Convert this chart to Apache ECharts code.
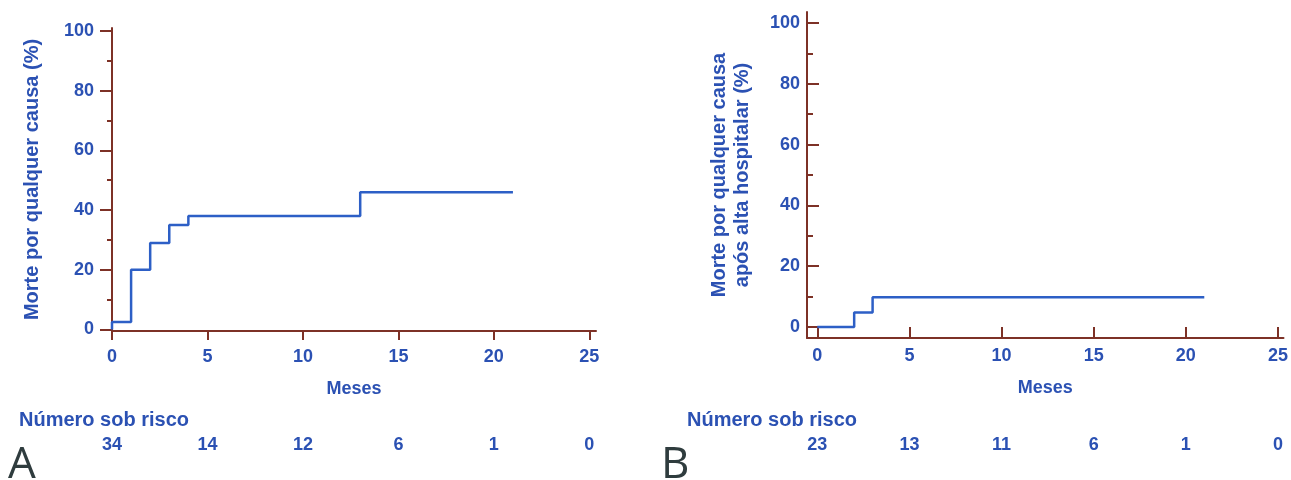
<!DOCTYPE html>
<html><head><meta charset="utf-8">
<script src="https://cdn.jsdelivr.net/npm/echarts@6/dist/echarts.min.js"></script>
<style>html,body{margin:0;padding:0;background:#fff}#c{width:1291px;height:480px}</style>
</head><body><div id="c"></div>
<script>
// ---- data ----
const timesA = [0, 0, 1, 2, 3, 4, 13, 21];
const pctA   = [0, 2.5, 20, 29, 35, 38, 46, 46];
const timesB = [0, 2, 3, 21];
const pctB   = [0, 4.8, 9.8, 9.8];
const xTicks = [0, 5, 10, 15, 20, 25];
const yTicks = [0, 20, 40, 60, 80, 100];
const yMinorTicks = [10, 30, 50, 70, 90];
const atRiskA = [34, 14, 12, 6, 1, 0];
const atRiskB = [23, 13, 11, 6, 1, 0];
const xName = 'Meses';
const yNameA = 'Morte por qualquer causa (%)';
const yNameB = 'Morte por qualquer causa\napós alta hospitalar (%)';
const riskTitle = 'Número sob risco';
const panelLetters = ['A', 'B'];

// ---- style ----
const BLUE = '#2b51b3';
const LINE = '#2d5fc6';
const AXIS = '#7d3126';
const FONT = "'Liberation Sans', Arial, sans-serif";
const txt = (extra) => Object.assign({color: BLUE, fontFamily: FONT, fontSize: 18, fontWeight: 'bold'}, extra || {});

function mainX(grid, min, max, inside, tickLen, margin, nameGap) {
  return {
    gridIndex: grid, type: 'value', position: 'bottom', min: min, max: max,
    axisLine: {show: true, onZero: false, lineStyle: {color: AXIS, width: 2}},
    axisTick: {show: true, inside: inside, length: tickLen, customValues: xTicks, lineStyle: {color: AXIS, width: 2}},
    axisLabel: {show: true, customValues: xTicks, margin: margin, ...txt()},
    splitLine: {show: false},
    name: xName, nameLocation: 'middle', nameGap: nameGap, nameTextStyle: txt()
  };
}
function riskX(grid, min, max, risk, offset) {
  return {
    gridIndex: grid, type: 'value', position: 'bottom', offset: offset, min: min, max: max,
    axisLine: {show: false, onZero: false}, axisTick: {show: false}, splitLine: {show: false},
    axisLabel: {show: true, customValues: xTicks, margin: 0, ...txt(),
      formatter: v => String(risk[xTicks.indexOf(v)])}
  };
}
function mainY(grid, min, max, inside, tickLen, margin, name, nameGap) {
  return {
    gridIndex: grid, type: 'value', position: 'left', min: min, max: max,
    axisLine: {show: true, onZero: false, lineStyle: {color: AXIS, width: 2}},
    axisTick: {show: true, inside: inside, length: tickLen, customValues: yTicks, lineStyle: {color: AXIS, width: 2}},
    axisLabel: {show: true, customValues: yTicks, margin: margin, ...txt()},
    splitLine: {show: false},
    name: name, nameLocation: 'middle', nameGap: nameGap,
    nameTextStyle: txt({fontSize: 20, lineHeight: 23, align: 'center'})
  };
}
function minorY(grid, min, max, inside, tickLen) {
  return {
    gridIndex: grid, type: 'value', position: 'left', min: min, max: max,
    axisLine: {show: false, onZero: false},
    axisTick: {show: true, inside: inside, length: tickLen, customValues: yMinorTicks, lineStyle: {color: AXIS, width: 2}},
    axisLabel: {show: false}, splitLine: {show: false}
  };
}

const option = {
  animation: false,
  backgroundColor: '#ffffff',
  title: [
    {text: riskTitle, left: 19, top: 410, padding: 0, textStyle: txt({fontSize: 20})},
    {text: riskTitle, left: 687, top: 410, padding: 0, textStyle: txt({fontSize: 20})},
    {text: panelLetters[0], left: 8, top: 443, padding: 0, textStyle: {color: '#2f3c3e', fontSize: 44, fontWeight: 'normal', fontFamily: "'Open Sans', 'Noto Sans', sans-serif"}},
    {text: panelLetters[1], left: 661, top: 443, padding: 0, textStyle: {color: '#2f3c3e', fontSize: 44, fontWeight: 'normal', fontFamily: "'Open Sans', 'Noto Sans', sans-serif"}}
  ],
  grid: [
    {left: 112, top: 28, width: 484, height: 303},
    {left: 807, top: 12, width: 484, height: 326}
  ],
  xAxis: [
    mainX(0, 0, 25.35, false, 9, 17, 49),
    riskX(0, 0, 25.35, atRiskA, 105),
    mainX(1, -0.56, 25.3, true, 11, 9, 41),
    riskX(1, -0.56, 25.3, atRiskB, 98)
  ],
  yAxis: [
    mainY(0, -0.5, 101, false, 12, 18, yNameA, 68),
    minorY(0, -0.5, 101, false, 5),
    mainY(1, -3.6, 103.6, true, 12, 7, yNameB, 53),
    minorY(1, -3.6, 103.6, true, 6)
  ],
  series: [
    {type: 'line', xAxisIndex: 0, yAxisIndex: 0, step: 'end', symbol: 'none',
     data: timesA.map((t, i) => [t, pctA[i]]), lineStyle: {color: LINE, width: 2.5}, z: 3},
    {type: 'line', xAxisIndex: 2, yAxisIndex: 2, step: 'end', symbol: 'none',
     data: timesB.map((t, i) => [t, pctB[i]]), lineStyle: {color: LINE, width: 2.5}, z: 3}
  ]
};
const chart = echarts.init(document.getElementById('c'), null, {renderer: 'canvas'});
chart.setOption(option);
</script>
</body></html>
